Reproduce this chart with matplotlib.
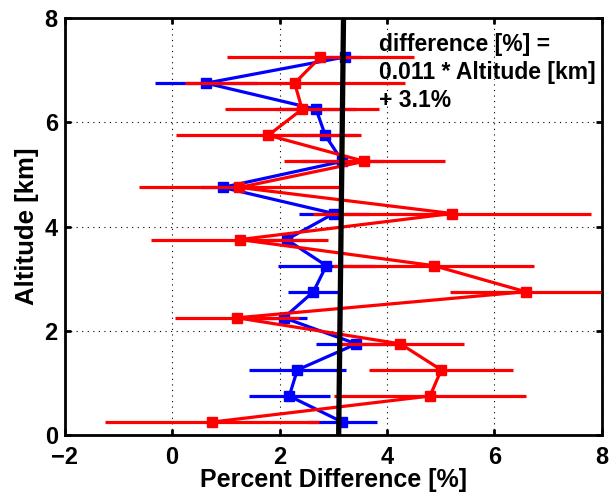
import numpy as np
import matplotlib.pyplot as plt

plt.rcParams['font.family'] = ['Liberation Sans', 'DejaVu Sans']
plt.rcParams['font.weight'] = 'bold'

# altitude bins [km]
altitude = [0.25, 0.75, 1.25, 1.75, 2.25, 2.75, 3.25, 3.75,
            4.25, 4.75, 5.25, 5.75, 6.25, 6.75, 7.25]

# blue profile: percent difference and error
blue_diff = [3.17, 2.18, 2.33, 3.43, 2.08, 2.63, 2.87, 2.13,
             3.01, 0.94, 3.17, 2.85, 2.68, 0.63, 3.21]
blue_err = [0.65, 0.75, 0.90, 0.75, 0.43, 0.48, 0.90, 0.35,
            0.65, 0.40, 0.78, 0.60, 0.75, 0.95, 0.30]

# red profile
red_diff = [0.74, 4.80, 5.01, 4.25, 1.21, 6.58, 4.87, 1.26,
            5.21, 1.25, 3.58, 1.79, 2.42, 2.28, 2.76]
red_err = [1.99, 1.78, 1.34, 1.19, 1.16, 1.40, 1.87, 1.65,
           2.58, 1.86, 1.50, 1.72, 1.43, 2.05, 1.74]

# linear fit line
fit_alt = [0, 8]
fit_diff = [3.10, 3.19]

fig = plt.figure(figsize=(6.11, 4.99), dpi=100)
ax = fig.add_axes([0.106, 0.128, 0.879, 0.836])

ax.errorbar(blue_diff, altitude, xerr=blue_err, color='#0000ff', lw=2.3,
            elinewidth=2.3, marker='s', ms=7.5, capsize=0, zorder=2)
ax.errorbar(red_diff, altitude, xerr=red_err, color='#ff0000', lw=2.3,
            elinewidth=2.3, marker='s', ms=7.5, capsize=0, zorder=3)
ax.plot(fit_diff, fit_alt, color='black', lw=3.8, zorder=4)

ax.text(3.86, 7.72, 'difference [%] =\n0.011 * Altitude [km]\n+ 3.1%',
        fontsize=16.5, fontweight='bold', va='top', ha='left', linespacing=1.3)

ax.set_xlim(-2, 8)
ax.set_ylim(0, 8)
ax.set_xticks([-2, 0, 2, 4, 6, 8])
ax.set_yticks([0, 2, 4, 6, 8])
ax.grid(True, color='black', linestyle=(0, (1, 4)), linewidth=0.8)
ax.tick_params(direction='in', top=True, right=True, labelsize=17,
               width=2, length=4)
ax.tick_params(axis='x', pad=8)
ax.tick_params(axis='y', pad=5)
for s in ax.spines.values():
    s.set_linewidth(2)
ax.set_xlabel('Percent Difference [%]', fontsize=18, fontweight='bold', labelpad=-1)
ax.set_ylabel('Altitude [km]', fontsize=18.5, fontweight='bold', labelpad=4)

fig.savefig('out.png', dpi=100)
